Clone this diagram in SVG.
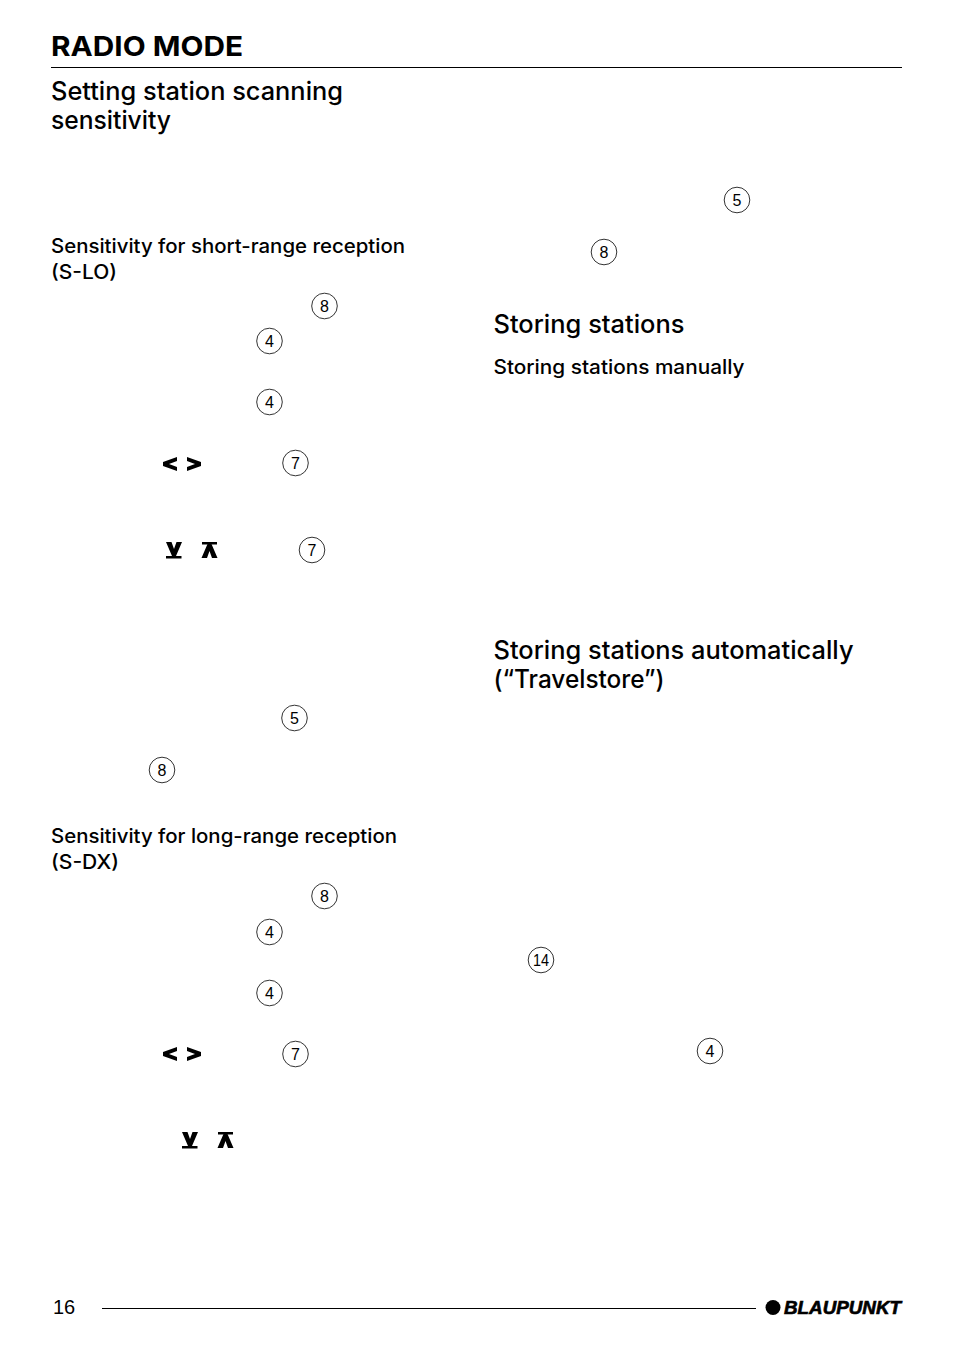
<svg xmlns="http://www.w3.org/2000/svg" width="954" height="1356" viewBox="0 0 954 1356">
<defs>
<style>
text{font-family:"Liberation Sans",Arial,sans-serif;fill:#000}
.h1{font-family:Inter,"Liberation Sans",sans-serif;font-size:27.500px;font-weight:700}
.h2{font-family:Inter,"Liberation Sans",sans-serif;font-size:25px;font-weight:500}
.h3{font-family:Inter,"Liberation Sans",sans-serif;font-size:19.500px;font-weight:500}
.n{font-size:16px;text-anchor:middle}
.c{fill:#fff;stroke:#000;stroke-width:.8}
</style>
<g id="num"><circle class="c" r="12.800"/></g>
<g id="lr"><path d="M177 457V461L169 464L177 467V471L163 466V462ZM187 457V461L195 464L187 467V471L201 466V462Z"/></g>
<g id="ud"><path d="M166 542H171.500L174 549L176.500 542H182L176 556H172Z"/><path d="M166 556H181.500V558.500H166Z"/><path d="M202 542H217V544.500H202Z"/><path d="M207.500 544H211.500L217.500 558H212L209.500 551L207 558H201.500Z"/></g>
</defs>
<rect width="954" height="1356" fill="#fff"/>
<g id="headings">
<text class="h1" x="51" y="56" textLength="192" lengthAdjust="spacingAndGlyphs">RADIO MODE</text>
<text class="h2" x="51" y="100" textLength="292" lengthAdjust="spacingAndGlyphs">Setting station scanning</text>
<text class="h2" x="51" y="129" textLength="120" lengthAdjust="spacingAndGlyphs">sensitivity</text>
<text class="h3" x="51" y="253" textLength="354" lengthAdjust="spacingAndGlyphs">Sensitivity for short-range reception</text>
<text class="h3" x="51" y="279" textLength="66" lengthAdjust="spacingAndGlyphs">(S-LO)</text>
<text class="h3" x="51" y="843" textLength="346" lengthAdjust="spacingAndGlyphs">Sensitivity for long-range reception</text>
<text class="h3" x="51" y="869" textLength="68" lengthAdjust="spacingAndGlyphs">(S-DX)</text>
<text class="h2" x="493.500" y="333" textLength="191" lengthAdjust="spacingAndGlyphs">Storing stations</text>
<text class="h3" x="493.500" y="374" textLength="251" lengthAdjust="spacingAndGlyphs">Storing stations manually</text>
<text class="h2" x="493.500" y="659" textLength="360" lengthAdjust="spacingAndGlyphs">Storing stations automatically</text>
<text class="h2" x="493.500" y="688" textLength="171" lengthAdjust="spacingAndGlyphs">(“Travelstore”)</text>
</g>
<g id="rules" stroke="#000" fill="none">
<path d="M51 67.500H902" stroke-width="1"/>
<path d="M102 1308.500H756" stroke-width="1"/>
</g>
<g id="callouts">
<g id="c1"><use href="#num" x="324.500" y="306"/><text class="n" x="324.500" y="311.500">8</text></g>
<g id="c2"><use href="#num" x="269.500" y="341"/><text class="n" x="269.500" y="346.500">4</text></g>
<g id="c3"><use href="#num" x="269.500" y="402"/><text class="n" x="269.500" y="407.500">4</text></g>
<g id="c4"><use href="#num" x="295.500" y="463"/><text class="n" x="295.500" y="468.500">7</text></g>
<g id="c5"><use href="#num" x="312" y="550"/><text class="n" x="312" y="555.500">7</text></g>
<g id="c6"><use href="#num" x="294.500" y="718"/><text class="n" x="294.500" y="723.500">5</text></g>
<g id="c7"><use href="#num" x="162" y="770"/><text class="n" x="162" y="775.500">8</text></g>
<g id="c8"><use href="#num" x="324.500" y="896"/><text class="n" x="324.500" y="901.500">8</text></g>
<g id="c9"><use href="#num" x="269.500" y="932"/><text class="n" x="269.500" y="937.500">4</text></g>
<g id="c10"><use href="#num" x="269.500" y="993"/><text class="n" x="269.500" y="998.500">4</text></g>
<g id="c11"><use href="#num" x="295.500" y="1054"/><text class="n" x="295.500" y="1059.500">7</text></g>
<g id="c12"><use href="#num" x="737" y="200"/><text class="n" x="737" y="205.500">5</text></g>
<g id="c13"><use href="#num" x="604" y="252"/><text class="n" x="604" y="257.500">8</text></g>
<g id="c14"><use href="#num" x="541" y="960"/><text class="n" x="541" y="965.500" textLength="16" lengthAdjust="spacingAndGlyphs">14</text></g>
<g id="c15"><use href="#num" x="710" y="1051"/><text class="n" x="710" y="1056.500">4</text></g>
</g>
<g id="symbols">
<use href="#lr"/>
<use href="#ud"/>
<use href="#lr" y="590"/>
<use href="#ud" x="16" y="590"/>
</g>
<g id="footer">
<text x="53" y="1314" font-size="20" textLength="22">16</text>
<circle cx="773" cy="1307.500" r="7.500" fill="#000"/>
<text x="784" y="1313.500" font-size="17.500" font-weight="700" font-style="italic" stroke="#000" stroke-width=".6" textLength="117" lengthAdjust="spacingAndGlyphs">BLAUPUNKT</text>
</g>
</svg>
